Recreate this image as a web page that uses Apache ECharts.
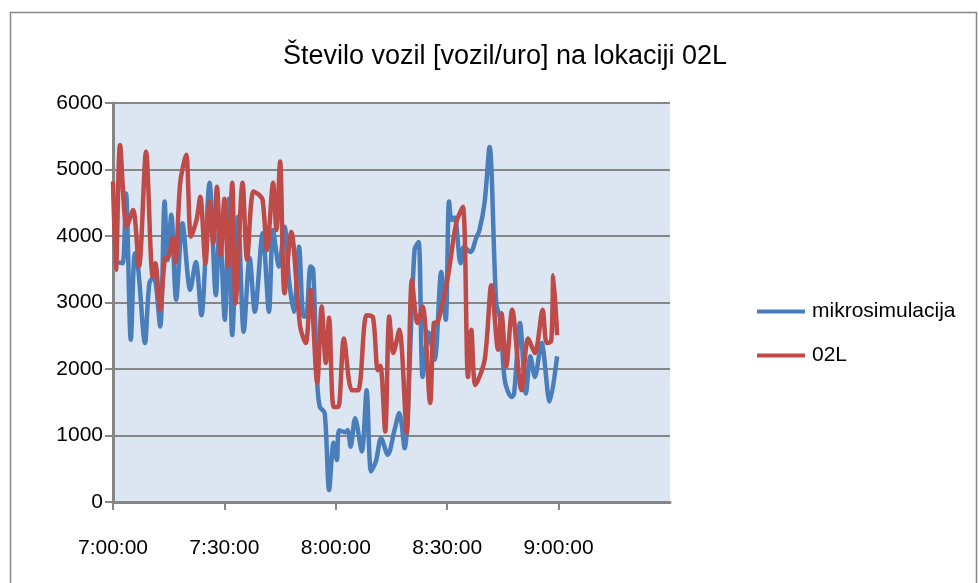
<!DOCTYPE html>
<html>
<head>
<meta charset="utf-8">
<script src="https://cdn.jsdelivr.net/npm/echarts@6/dist/echarts.min.js"></script>
<style>
html,body{margin:0;padding:0;background:#fff;}
#chart{width:979px;height:583px;}
</style>
</head>
<body>
<div id="chart"></div>
<script>
// Title and legend texts
const chartTitle = 'Število vozil [vozil/uro] na lokaciji 02L';
const seriesNames = ['mikrosimulacija', '02L'];

// X tick labels (minutes after 7:00:00 and their labels)
const tickMinutes = [0, 30, 60, 90, 120];
const tickLabels = ['7:00:00', '7:30:00', '8:00:00', '8:30:00', '9:00:00'];

// mikrosimulacija: minutes after 7:00 and values [vozil/uro]
const mikroMinutes = [0, 1.5, 2.6, 3.5, 4.8, 5.9, 6.8, 8.6, 9.8, 11.0, 12.7, 13.9, 14.7, 15.7, 17.0, 18.7, 20.8,
  22.3, 23.8, 26.0, 27.7, 28.7, 30.1, 31.2, 32.1, 33.7, 35.2, 36.8, 38.2, 40.3, 42.0, 43.1, 44.7, 46.2, 47.4,
  48.7, 50.1, 51.3, 52.0, 53.2, 53.9, 55.0, 55.7, 57.0, 58.2, 59.4, 60.3, 60.9, 62.5, 63.2, 64.0, 65.2, 67.0,
  68.3, 69.5, 70.8, 72.2, 74.0, 75.8, 77.1, 78.5, 81.2, 82.3, 83.4, 85.0, 86.6, 88.4, 89.6, 90.5, 91.2, 92.0,
  93.6, 94.5, 96.3, 97.8, 98.7, 100.1, 101.4, 103.2, 104.3, 105.5, 107.3, 108.0, 109.6, 111.2, 112.4, 113.6,
  115.4, 117.6, 119.6];
const mikroValues = [3590, 3600, 3590, 4640, 2440, 3740, 3500, 2390, 3290, 3390, 2640, 4520, 3640, 4320, 3040, 4190, 3190,
  3610, 2810, 4800, 3110, 4190, 2740, 4560, 2510, 4290, 2560, 3670, 2860, 4040, 2860, 4090, 3540, 4140, 3340,
  2860, 3840, 2790, 2790, 3540, 3500, 1790, 1430, 1340, 180, 890, 630, 1080, 1050, 1080, 830, 1260, 760,
  1680, 460, 610, 960, 710, 1080, 1340, 810, 3790, 3910, 1880, 2550, 2140, 3460, 2740, 4520, 4240, 4280,
  3590, 3840, 3760, 3970, 4090, 4520, 5340, 2990, 2740, 1830, 1580, 1620, 2690, 1630, 2190, 1880,
  2390, 1510, 2190];

// 02L: minutes after 7:00 and values [vozil/uro]
const o2lMinutes = [0, 0.8, 1.9, 3.7, 5.4, 7.0, 8.9, 10.7, 11.4, 12.7, 14.0, 15.0, 16.1, 16.8, 18.1, 19.7, 21.0,
  22.5, 23.5, 24.9, 26.0, 27.0, 28.0, 29.0, 30.0, 31.0, 32.1, 33.0, 34.9, 36.1, 37.8, 39.3, 40.3, 41.5, 43.1,
  44.0, 45.0, 46.2, 48.0, 50.4, 51.9, 53.2, 55.0, 56.2, 57.3, 58.2, 59.4, 60.5, 61.0, 62.2, 64.3, 66.0, 68.3,
  70.0, 71.3, 72.0, 73.3, 74.4, 75.5, 77.1, 79.1, 80.5, 82.0, 83.4, 85.4, 86.4, 87.5, 90.2, 92.4, 94.2, 95.6,
  96.5, 97.6, 100.1, 101.9, 103.7, 104.6, 105.9, 107.5, 110.0, 111.8, 113.6, 115.7, 116.8, 118.0, 118.6, 119.6];
const o2lValues = [4820, 3490, 5370, 4140, 4390, 3540, 5270, 3390, 3590, 2890, 3670, 3690, 3970, 3600, 4800, 5220, 3990,
  4240, 4590, 3590, 4520, 3890, 4740, 3710, 4560, 3540, 4800, 2990, 4800, 3640, 4670, 4620, 4540, 3790, 4800,
  4090, 5120, 3140, 4060, 2640, 2390, 3190, 1790, 2940, 2090, 2770, 1430, 1430, 1500, 2460, 1680, 1680, 2810,
  2780, 1980, 2050, 1060, 2790, 2240, 2590, 1040, 3340, 2690, 2940, 1490, 2690, 2710, 3390, 4190, 4440, 1880,
  2590, 1760, 2140, 3260, 2290, 2840, 2040, 2890, 1680, 2460, 2240, 2890, 2390, 2420, 3410, 2510];

const pair = (xs, ys) => xs.map((x, i) => [x, ys[i]]);
const FONT = '"Liberation Sans", Arial, sans-serif';
const GREY = '#868686';

const chart = echarts.init(document.getElementById('chart'), null, {renderer: 'canvas'});
chart.setOption({
  animation: false,
  backgroundColor: '#ffffff',
  graphic: [{
    type: 'rect', left: 8, top: 10, z: -10,
    shape: {width: 966, height: 600},
    style: {fill: 'none', stroke: GREY, lineWidth: 1.5}
  }],
  title: {
    text: chartTitle,
    left: 500, top: 38, textAlign: 'center',
    textStyle: {fontFamily: FONT, fontSize: 27, fontWeight: 'normal', color: '#000'}
  },
  legend: {
    orient: 'vertical',
    left: 752, top: 296,
    itemWidth: 48, itemHeight: 4, itemGap: 23,
    icon: 'rect',
    textStyle: {fontFamily: FONT, fontSize: 21, color: '#000', padding: [0, 0, 0, 2]},
    data: seriesNames
  },
  grid: {
    left: 113, right: 309, top: 103, bottom: 81,
    show: true, backgroundColor: '#dce6f2', borderWidth: 0
  },
  xAxis: {
    type: 'value', min: 0, max: 150, interval: 30,
    axisLine: {show: true, lineStyle: {color: GREY, width: 3}},
    axisTick: {show: true, customValues: tickMinutes, length: 8, lineStyle: {color: GREY, width: 2}},
    axisLabel: {
      customValues: tickMinutes,
      margin: 36, color: '#000', fontFamily: FONT, fontSize: 21,
      formatter: v => tickLabels[tickMinutes.indexOf(v)] || ''
    },
    splitLine: {show: false}
  },
  yAxis: {
    type: 'value', min: 0, max: 6000, interval: 1000,
    axisLine: {show: true, lineStyle: {color: GREY, width: 3}},
    axisTick: {show: true, length: 8, lineStyle: {color: GREY, width: 2}},
    axisLabel: {margin: 10, color: '#000', fontFamily: FONT, fontSize: 21, formatter: v => String(v)},
    splitLine: {show: true, lineStyle: {color: GREY, width: 2}}
  },
  series: [
    {
      name: seriesNames[0], type: 'line', data: pair(mikroMinutes, mikroValues),
      showSymbol: false, symbol: 'none', smooth: 0.3,
      lineStyle: {color: '#4a7ebb', width: 4.5}, itemStyle: {color: '#4a7ebb'}, z: 3
    },
    {
      name: seriesNames[1], type: 'line', data: pair(o2lMinutes, o2lValues),
      showSymbol: false, symbol: 'none', smooth: 0.3,
      lineStyle: {color: '#be4b48', width: 4.5}, itemStyle: {color: '#be4b48'}, z: 4
    }
  ]
});
</script>
</body>
</html>
